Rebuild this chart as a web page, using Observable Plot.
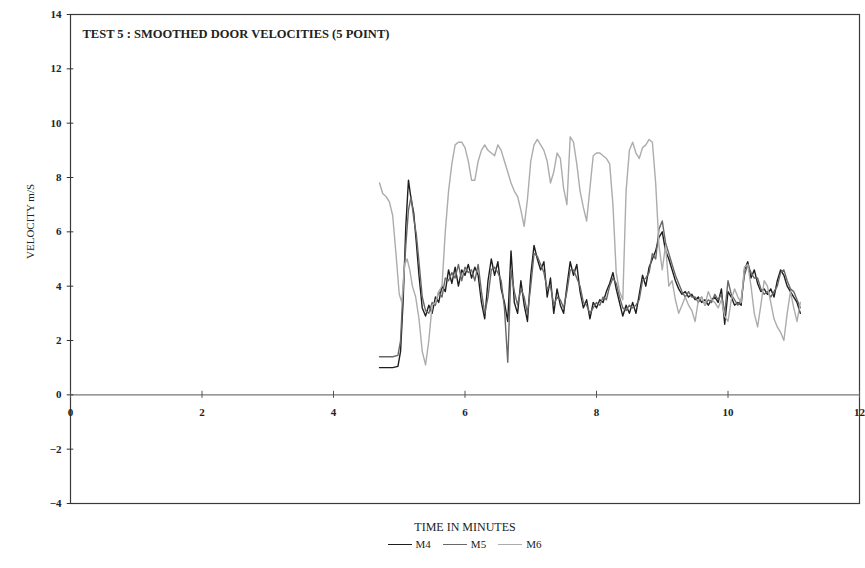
<!DOCTYPE html>
<html>
<head>
<meta charset="utf-8">
<script src="https://cdn.jsdelivr.net/npm/d3@7"></script>
<script src="https://cdn.jsdelivr.net/npm/@observablehq/plot@0.6"></script>
<style>
  body { margin: 0; background: #fff; font-family: "Liberation Serif", "DejaVu Serif", serif; overflow: hidden; }
  #legend { width: 801px; padding-left: 64px; display: flex; justify-content: center; gap: 12px; font-size: 11px; color: #222; margin-top: 0px; }
  #legend span.item { display: inline-flex; align-items: center; gap: 4px; }
  #legend span.sw { display: inline-block; width: 24px; height: 0; border-top: 1.4px solid; }
</style>
</head>
<body>
<div id="chart"></div>
<div id="legend"></div>
<script>
const title = "TEST 5 : SMOOTHED DOOR VELOCITIES (5 POINT)";
const xLabel = "TIME IN MINUTES";
const yLabel = "VELOCITY m/S";
const seriesNames = ["M4", "M5", "M6"];
const seriesColors = ["#1e1e1e", "#686868", "#acacac"];
const xTicks = [0, 2, 4, 6, 8, 10, 12];
const yTicks = [-4, -2, 0, 2, 4, 6, 8, 10, 12, 14];

const timeA = [4.70,4.80,4.90,4.98,5.02,5.06,5.10,5.14,5.18,5.22,5.26,5.30,5.35,5.40,5.45,5.50,5.55,5.60,5.65,5.70,5.75,5.80,5.85,5.90,5.95,6.00,6.05,6.10,6.15,6.20,6.25,6.30,6.35,6.40,6.45,6.50,6.55,6.60,6.65,6.70,6.75,6.80,6.85,6.90,6.95,7.00,7.05,7.10,7.15,7.20,7.25,7.30,7.35,7.40,7.45,7.50,7.55,7.60,7.65,7.70,7.75,7.80,7.85,7.90,7.95,8.00,8.05,8.10,8.15,8.20,8.25,8.30,8.35,8.40,8.45,8.50,8.55,8.60,8.65,8.70,8.75,8.80,8.85,8.90,8.95,9.00,9.05,9.10,9.15,9.20,9.25,9.30,9.35,9.40,9.45,9.50,9.55,9.60,9.65,9.70,9.75,9.80,9.85,9.90,9.95,10.00,10.05,10.10,10.15,10.20,10.25,10.30,10.35,10.40,10.45,10.50,10.55,10.60,10.65,10.70,10.75,10.80,10.85,10.90,10.95,11.00,11.05,11.10];

const m4 = [1.0,1.0,1.0,1.05,1.6,3.5,6.2,7.9,7.2,6.7,5.6,4.4,3.2,2.9,3.3,3.0,3.6,3.4,4.0,3.8,4.6,4.1,4.7,4.0,4.6,4.4,4.8,4.3,4.7,4.4,3.4,2.8,4.2,5.0,4.4,4.9,3.9,3.4,2.7,5.3,3.4,3.0,4.2,3.3,2.7,4.4,5.5,5.0,4.6,4.9,3.6,4.3,3.0,3.9,3.3,3.0,4.0,4.9,4.4,4.8,3.8,3.2,3.5,2.8,3.4,3.2,3.5,3.4,3.8,4.1,4.5,3.9,3.4,2.9,3.3,3.0,3.4,3.0,3.7,4.4,4.0,4.7,5.0,5.3,5.8,6.0,5.3,5.0,4.6,4.2,3.9,3.7,3.8,3.6,3.7,3.5,3.6,3.4,3.5,3.3,3.5,3.6,3.4,3.9,2.6,3.8,3.6,3.3,3.4,3.3,4.6,4.9,4.3,4.6,4.1,3.8,3.9,3.7,3.9,3.6,4.2,4.6,4.4,4.0,3.8,3.6,3.4,3.0];

const m5 = [1.4,1.4,1.4,1.45,2.0,4.0,5.5,6.8,7.3,6.5,5.9,4.9,3.6,3.1,3.0,3.4,3.3,3.8,3.6,4.3,4.2,4.5,4.3,4.8,4.2,4.7,4.5,4.6,4.2,4.8,3.8,3.0,3.6,4.6,4.7,4.5,4.2,3.2,1.2,4.6,3.8,3.3,3.9,3.6,3.0,4.0,5.2,5.1,4.8,4.5,3.9,4.0,3.3,3.6,3.5,3.2,3.8,4.6,4.6,4.3,4.0,3.4,3.3,3.0,3.2,3.4,3.3,3.6,3.5,4.0,4.3,4.1,3.6,3.2,3.1,3.3,3.2,3.3,3.5,4.2,4.3,4.5,5.2,5.0,6.1,6.4,5.6,5.2,4.8,4.4,4.1,3.8,3.6,3.8,3.6,3.6,3.4,3.6,3.3,3.5,3.4,3.7,3.5,3.7,3.0,4.2,3.7,3.5,3.3,3.5,4.4,4.8,4.5,4.3,4.3,3.9,3.7,3.8,3.6,3.8,4.0,4.5,4.6,4.2,3.9,3.8,3.5,3.2];

const timeB = [4.70,4.75,4.80,4.85,4.90,4.95,5.00,5.04,5.08,5.12,5.16,5.20,5.25,5.30,5.35,5.40,5.45,5.50,5.55,5.60,5.65,5.70,5.75,5.80,5.85,5.90,5.95,6.00,6.05,6.10,6.15,6.20,6.25,6.30,6.35,6.40,6.45,6.50,6.55,6.60,6.65,6.70,6.75,6.80,6.85,6.90,6.95,7.00,7.05,7.10,7.15,7.20,7.25,7.30,7.35,7.40,7.45,7.50,7.55,7.60,7.65,7.70,7.75,7.80,7.85,7.90,7.95,8.00,8.05,8.10,8.15,8.20,8.25,8.30,8.35,8.40,8.45,8.50,8.55,8.60,8.65,8.70,8.75,8.80,8.85,8.90,8.95,9.00,9.05,9.10,9.15,9.20,9.25,9.30,9.35,9.40,9.45,9.50,9.55,9.60,9.65,9.70,9.75,9.80,9.85,9.90,9.95,10.00,10.05,10.10,10.15,10.20,10.25,10.30,10.35,10.40,10.45,10.50,10.55,10.60,10.65,10.70,10.75,10.80,10.85,10.90,10.95,11.00,11.05,11.10];

const m6 = [7.8,7.4,7.3,7.1,6.6,5.2,3.7,3.4,4.8,5.0,4.6,4.0,3.6,2.8,1.6,1.1,2.0,3.3,3.4,3.8,4.0,6.0,7.5,8.5,9.2,9.3,9.3,9.1,8.6,7.9,7.9,8.6,9.0,9.2,9.0,8.9,8.8,9.2,9.0,8.6,8.2,7.8,7.5,7.3,6.8,6.2,7.2,8.6,9.2,9.4,9.2,9.0,8.6,7.8,8.2,8.9,8.7,7.6,7.0,9.5,9.3,8.5,7.5,6.9,6.4,7.6,8.8,8.9,8.9,8.8,8.7,8.5,7.0,4.5,3.8,3.5,7.5,9.0,9.3,8.9,8.7,9.1,9.2,9.4,9.3,7.8,5.5,4.6,5.5,4.0,4.2,3.5,3.0,3.3,3.6,3.3,3.1,2.7,3.5,3.6,3.3,3.8,3.5,3.4,3.2,3.5,2.9,2.7,3.5,3.9,3.6,3.4,4.7,4.8,4.0,3.0,2.5,3.3,4.2,4.0,3.4,2.8,2.5,2.3,2.0,3.0,3.8,3.2,2.7,3.4];

const rows = [];
timeA.forEach((t, i) => rows.push({series: "M4", t, v: m4[i]}));
timeA.forEach((t, i) => rows.push({series: "M5", t, v: m5[i]}));
timeB.forEach((t, i) => rows.push({series: "M6", t, v: m6[i]}));

const font = '"Liberation Serif", "DejaVu Serif", serif';

const chart = Plot.plot({
  width: 865,
  height: 538,
  marginTop: 14,
  marginLeft: 70,
  marginRight: 6,
  marginBottom: 35,
  style: {fontFamily: font, fontSize: "11px", color: "#222", background: "#fff"},
  x: {domain: [0, 12], axis: null},
  y: {domain: [-4, 14], ticks: yTicks, label: null},
  color: {domain: seriesNames, range: seriesColors},
  marks: [
    Plot.frame({stroke: "#3a3a3a", strokeWidth: 1.2}),
    Plot.ruleY([0], {stroke: "#777", strokeWidth: 1.4}),
    Plot.axisY({ticks: yTicks, tickSize: 0, tickPadding: 9, fontWeight: "bold", fontSize: 11, label: null}),
    Plot.ruleY(yTicks, {x1: -0.05, x2: 0.05, stroke: "#333"}),
    Plot.ruleX(xTicks, {y1: -0.13, y2: 0.13, stroke: "#555"}),
    Plot.text(xTicks, {x: d => d, y: 0, dy: 18, text: d => String(d), fontWeight: "bold", fontSize: 11, fill: "#222"}),
    Plot.line(rows, {x: "t", y: "v", z: "series", stroke: "series", strokeWidth: 1.4, curve: "linear"}),
    Plot.text([title], {frameAnchor: "top-left", dx: 12, dy: 19, lineAnchor: "middle", textAnchor: "start", fontSize: 12.5, fontWeight: "bold", fill: "#222"}),
    Plot.text([yLabel], {frameAnchor: "left", dx: -40, rotate: -90, lineAnchor: "middle", fontSize: 11, fill: "#222"}),
    Plot.text([xLabel], {frameAnchor: "bottom", dy: 24, lineAnchor: "middle", fontSize: 12, fill: "#222"})
  ]
});
document.getElementById("chart").appendChild(chart);

const legend = document.getElementById("legend");
seriesNames.forEach((name, i) => {
  const item = document.createElement("span");
  item.className = "item";
  const sw = document.createElement("span");
  sw.className = "sw";
  sw.style.borderTopColor = seriesColors[i];
  item.appendChild(sw);
  const lab = document.createElement("span");
  lab.textContent = name;
  item.appendChild(lab);
  legend.appendChild(item);
});
</script>
</body>
</html>
